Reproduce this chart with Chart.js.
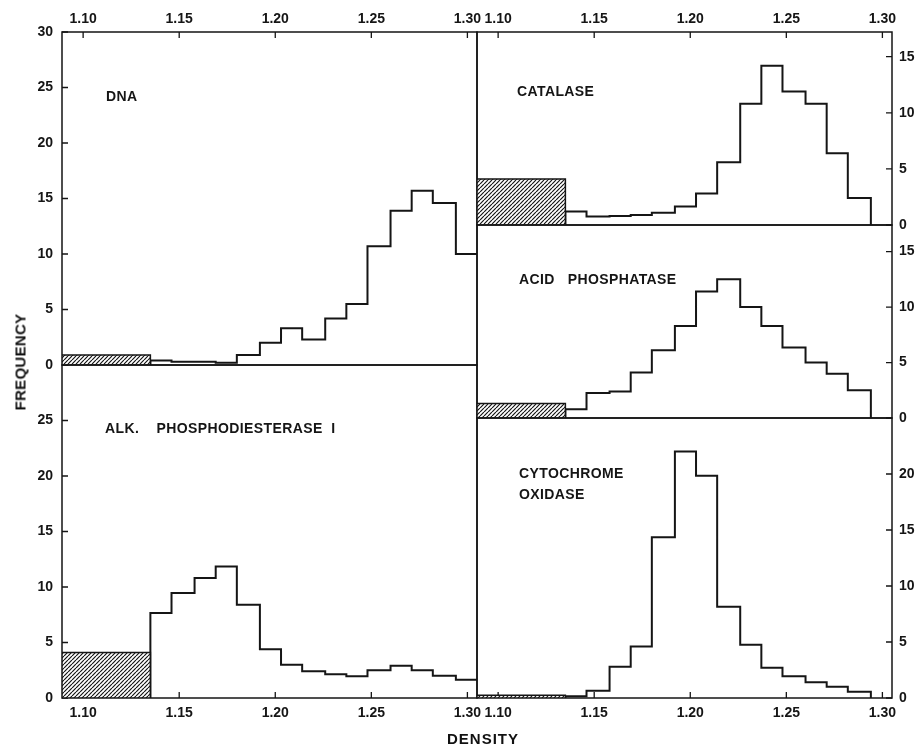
<!DOCTYPE html>
<html lang="en">
<head>
  <meta charset="UTF-8" />
  <title>Density distributions</title>
  <script src="https://cdn.jsdelivr.net/npm/chart.js"></script>
  <style>
    body { margin: 0; background: #fff; }
    #wrap { position: relative; width: 918px; height: 748px; overflow: hidden; background: #fff; }
    #wrap canvas { position: absolute; left: 0; top: 0; }
    .lbl {
      position: absolute;
      font-family: 'Liberation Sans', Arial, sans-serif;
      font-weight: bold;
      font-size: 15px;
      color: #111;
      letter-spacing: 1px;
      white-space: nowrap;
    }
    #freq { left: 20px; top: 362px; transform: translate(-50%, -50%) rotate(-90deg); letter-spacing: 0.3px; }
    #dens { left: 483px; top: 738px; transform: translate(-50%, -50%); }
  </style>
</head>
<body>
  <div id="wrap">
    <canvas id="dnaChart" width="918" height="748"></canvas>
    <canvas id="alkChart" width="918" height="748"></canvas>
    <canvas id="catalaseChart" width="918" height="748"></canvas>
    <canvas id="acidChart" width="918" height="748"></canvas>
    <canvas id="cytoChart" width="918" height="748"></canvas>
    <div class="lbl" id="freq">FREQUENCY</div>
    <div class="lbl" id="dens">DENSITY</div>
  </div>

  <script>
    // density axis
    const densityMin = 1.089;
    const densityMax = 1.305;
    const densityTicks = [1.10, 1.15, 1.20, 1.25, 1.30];
    // fraction boundaries (hatched fraction runs from densityMin up to the first edge)
    const binEdges = [1.135, 1.146, 1.158, 1.169, 1.180, 1.192, 1.203, 1.214,
                      1.226, 1.237, 1.248, 1.260, 1.271, 1.282, 1.294, 1.305];

    // frequencies, one per fraction
    const dnaHatch = 0.9;
    const dnaValues = [0.4, 0.3, 0.3, 0.2, 0.9, 2.0, 3.3, 2.3, 4.2, 5.5, 10.7, 13.9, 15.7, 14.6, 10.0];
    const alkHatch = 4.1;
    const alkValues = [7.65, 9.45, 10.8, 11.85, 8.4, 4.4, 3.0, 2.4, 2.15, 1.95, 2.5, 2.9, 2.5, 2.0, 1.65];
    const catalaseHatch = 4.1;
    const catalaseValues = [1.2, 0.75, 0.8, 0.9, 1.1, 1.65, 2.8, 5.6, 10.8, 14.2, 11.9, 10.8, 6.4, 2.4];
    const acidHatch = 1.3;
    const acidValues = [0.8, 2.25, 2.4, 4.1, 6.1, 8.3, 11.4, 12.5, 10.0, 8.3, 6.35, 5.0, 4.0, 2.5];
    const cytoHatch = 0.25;
    const cytoValues = [0.15, 0.65, 2.8, 4.6, 14.35, 22.0, 19.85, 8.15, 4.75, 2.7, 1.95, 1.4, 1.0, 0.55];

    // frequency ticks
    const dnaTicks = [0, 5, 10, 15, 20, 25, 30];
    const alkTicks = [0, 5, 10, 15, 20, 25];
    const catalaseTicks = [0, 5, 10, 15];
    const acidTicks = [0, 5, 10, 15];
    const cytoTicks = [0, 5, 10, 15, 20];

    const ink = '#151515';
    const fontFamily = "'Liberation Sans', Arial, sans-serif";

    function hatchPattern() {
      const tile = document.createElement('canvas');
      tile.width = 4; tile.height = 4;
      const c = tile.getContext('2d');
      c.fillStyle = '#fff';
      c.fillRect(0, 0, 4, 4);
      c.strokeStyle = ink;
      c.lineWidth = 1.2;
      c.beginPath();
      for (let k = -4; k <= 4; k += 4) {
        c.moveTo(k, 4);
        c.lineTo(k + 4, 0);
      }
      c.stroke();
      return c.createPattern(tile, 'repeat');
    }

    // frame, inward tick marks and panel caption
    const panelPlugin = {
      id: 'panel',
      beforeDatasetsDraw(chart) {
        const { ctx, chartArea: a, scales } = chart;
        ctx.save();
        ctx.strokeStyle = ink;
        ctx.lineWidth = 1.3;
        ctx.beginPath();
        const x = scales.x;
        if (x.options.display) {
          const top = x.options.position === 'top';
          x.ticks.forEach(t => {
            const px = x.getPixelForValue(t.value);
            ctx.moveTo(px, top ? a.top : a.bottom);
            ctx.lineTo(px, top ? a.top + 6 : a.bottom - 6);
          });
        }
        const y = scales.y;
        const left = y.options.position === 'left';
        y.ticks.forEach(t => {
          const py = y.getPixelForValue(t.value);
          ctx.moveTo(left ? a.left : a.right, py);
          ctx.lineTo(left ? a.left + 6 : a.right - 6, py);
        });
        ctx.stroke();
        ctx.restore();
      },
      afterDatasetsDraw(chart, args, opts) {
        const { ctx, chartArea: a } = chart;
        ctx.save();
        ctx.strokeStyle = ink;
        ctx.lineWidth = 1.5;
        ctx.strokeRect(a.left, a.top, a.right - a.left, a.bottom - a.top);
        ctx.fillStyle = ink;
        ctx.font = 'bold 14px ' + fontFamily;
        ctx.letterSpacing = '0.4px';
        ctx.textBaseline = 'middle';
        ctx.textAlign = 'left';
        (opts.lines || []).forEach((line, i) => {
          ctx.fillText(line, opts.x, opts.y + i * 21);
        });
        ctx.restore();
      }
    };

    function createPanel(id, cfg) {
      const n = cfg.values.length;
      const outline = [{ x: binEdges[0], y: 0 }];
      cfg.values.forEach((v, i) => outline.push({ x: binEdges[i], y: v }));
      outline.push({ x: binEdges[n], y: cfg.values[n - 1] });
      if (binEdges[n] < densityMax) outline.push({ x: binEdges[n], y: 0 });
      const hatch = [
        { x: densityMin, y: cfg.hatch },
        { x: binEdges[0], y: cfg.hatch },
        { x: binEdges[0], y: 0 }
      ];

      return new Chart(document.getElementById(id), {
        type: 'line',
        data: {
          datasets: [
            {
              data: hatch,
              borderColor: ink,
              borderWidth: 1.5,
              backgroundColor: hatchPattern(),
              fill: 'origin',
              pointRadius: 0,
              tension: 0
            },
            {
              data: outline,
              borderColor: ink,
              borderWidth: 2,
              fill: false,
              stepped: true,
              pointRadius: 0
            }
          ]
        },
        options: {
          responsive: false,
          animation: false,
          events: [],
          layout: { padding: cfg.padding },
          plugins: {
            legend: { display: false },
            tooltip: { enabled: false },
            panel: { lines: cfg.caption, x: cfg.captionX, y: cfg.captionY }
          },
          scales: {
            x: {
              type: 'linear',
              min: densityMin,
              max: densityMax,
              display: !!cfg.xPos,
              position: cfg.xPos || 'bottom',
              grid: { display: false, drawTicks: false },
              border: { display: false },
              ticks: {
                padding: cfg.xPos === 'top' ? 4 : 7,
                autoSkip: false,
                maxRotation: 0,
                color: ink,
                font: { family: fontFamily, size: 14, weight: 'bold' },
                callback: v => v.toFixed(2)
              },
              afterBuildTicks: s => { s.ticks = densityTicks.map(v => ({ value: v })); },
              afterFit: s => {
                if (!cfg.xPos) return;
                s.height = cfg.xPos === 'top' ? 32 : 50;
                s.paddingLeft = 0;
                s.paddingRight = 0;
              }
            },
            y: {
              type: 'linear',
              min: 0,
              max: cfg.yMax,
              position: cfg.yPos,
              grid: { display: false, drawTicks: false },
              border: { display: false },
              ticks: {
                padding: cfg.yPos === 'left' ? 9 : 7,
                autoSkip: false,
                color: ink,
                font: { family: fontFamily, size: 14, weight: 'bold' }
              },
              afterBuildTicks: s => { s.ticks = cfg.ticks.map(v => ({ value: v })); },
              afterFit: s => {
                s.width = cfg.yPos === 'left' ? 62 : 26;
                s.paddingTop = 0;
                s.paddingBottom = 0;
              }
            }
          }
        },
        plugins: [panelPlugin]
      });
    }

    createPanel('dnaChart', {
      values: dnaValues, hatch: dnaHatch, ticks: dnaTicks, yMax: 30,
      xPos: 'top', yPos: 'left',
      padding: { left: 0, top: 0, right: 441, bottom: 383 },
      caption: ['DNA'], captionX: 106, captionY: 97
    });
    createPanel('alkChart', {
      values: alkValues, hatch: alkHatch, ticks: alkTicks, yMax: 30,
      xPos: 'bottom', yPos: 'left',
      padding: { left: 0, top: 365, right: 441, bottom: 0 },
      caption: ['ALK.    PHOSPHODIESTERASE  I'], captionX: 105, captionY: 429
    });
    createPanel('catalaseChart', {
      values: catalaseValues, hatch: catalaseHatch, ticks: catalaseTicks, yMax: 17.2,
      xPos: 'top', yPos: 'right',
      padding: { left: 477, top: 0, right: 0, bottom: 523 },
      caption: ['CATALASE'], captionX: 517, captionY: 92
    });
    createPanel('acidChart', {
      values: acidValues, hatch: acidHatch, ticks: acidTicks, yMax: 17.4,
      xPos: null, yPos: 'right',
      padding: { left: 477, top: 225, right: 0, bottom: 330 },
      caption: ['ACID   PHOSPHATASE'], captionX: 519, captionY: 280
    });
    createPanel('cytoChart', {
      values: cytoValues, hatch: cytoHatch, ticks: cytoTicks, yMax: 25,
      xPos: 'bottom', yPos: 'right',
      padding: { left: 477, top: 418, right: 0, bottom: 0 },
      caption: ['CYTOCHROME', 'OXIDASE'], captionX: 519, captionY: 474
    });
  </script>
</body>
</html>
